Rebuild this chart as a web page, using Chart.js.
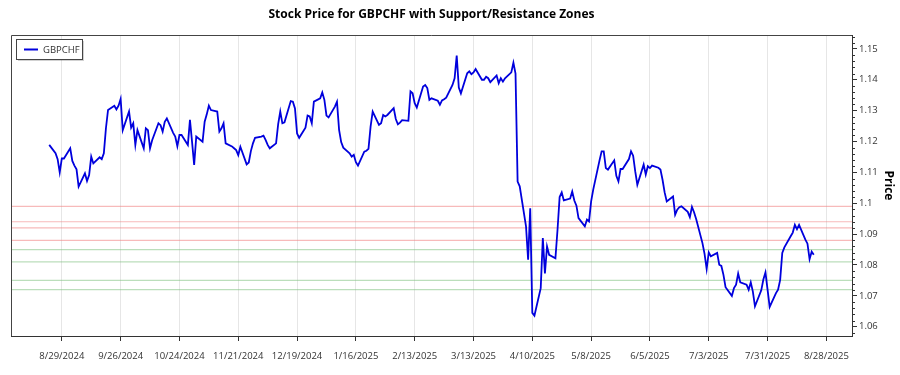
<!DOCTYPE html>
<html>
<head>
<meta charset="utf-8">
<script src="https://cdn.jsdelivr.net/npm/chart.js@4.4.1/dist/chart.umd.min.js"></script>
<style>
  html, body { margin: 0; padding: 0; background: #fff; }
  #wrap { width: 900px; height: 375px; }
</style>
</head>
<body>
<div id="wrap"><canvas id="chart" width="900" height="375"></canvas></div>
<script>
// 数据：GBPCHF 日收盘价（工作日，从 firstTradingDay 起）
const firstTradingDay = '2024-08-23';
const closePrices = [
  // 2024-08
  1.1189, 1.1162, 1.1143, 1.1100, 1.1145, 1.1145,
  // 2024-09
  1.1178, 1.1137, 1.1122, 1.1110, 1.1054, 1.1097, 1.1072, 1.1091, 1.1151, 1.1129,
  1.1149, 1.1143, 1.1162, 1.1243, 1.1302, 1.1316, 1.1304, 1.1316, 1.1338, 1.1237, 1.1297,
  // 2024-10
  1.1245, 1.1259, 1.1189, 1.1237, 1.1178, 1.1243, 1.1237, 1.1178, 1.1204, 1.1259,
  1.1253, 1.1232, 1.1264, 1.1275, 1.1228, 1.1216, 1.1185, 1.1221, 1.1221, 1.1189,
  1.1270, 1.1199, 1.1124,
  // 2024-11
  1.1216, 1.1199, 1.1264, 1.1288, 1.1316, 1.1302, 1.1297, 1.1232, 1.1243, 1.1259,
  1.1194, 1.1184, 1.1178, 1.1172, 1.1156, 1.1183, 1.1126, 1.1132, 1.1169, 1.1194, 1.1212,
  // 2024-12
  1.1216, 1.1219, 1.1205, 1.1189, 1.1178, 1.1194, 1.1256, 1.1297, 1.1259, 1.1262,
  1.1331, 1.1329, 1.1307, 1.1226, 1.1212, 1.1245, 1.1284, 1.1281, 1.1259, 1.1329,
  1.1340, 1.1359,
  // 2025-01
  1.1335, 1.1284, 1.1278, 1.1313, 1.1329, 1.1238, 1.1198, 1.1180, 1.1162, 1.1151,
  1.1157, 1.1133, 1.1122, 1.1167, 1.1170, 1.1176, 1.1248, 1.1297, 1.1254, 1.1259,
  1.1286, 1.1281, 1.1286,
  // 2025-02
  1.1308, 1.1273, 1.1256, 1.1261, 1.1269, 1.1267, 1.1362, 1.1356, 1.1324, 1.1310,
  1.1378, 1.1383, 1.1373, 1.1335, 1.1340, 1.1332, 1.1319, 1.1333, 1.1337, 1.1342,
  // 2025-03
  1.1383, 1.1405, 1.1478, 1.1375, 1.1356, 1.1421, 1.1427, 1.1418, 1.1424, 1.1435,
  1.1400, 1.1400, 1.1410, 1.1405, 1.1392, 1.1414, 1.1389, 1.1405, 1.1394, 1.1405, 1.1424,
  // 2025-04
  1.1455, 1.1420, 1.1070, 1.1055, 1.0925, 1.0817, 1.0984, 1.0645, 1.0636, 1.0725,
  1.0887, 1.0773, 1.0860, 1.0833, 1.0822, 1.0914, 1.1020, 1.1035, 1.1009, 1.1015,
  1.1038, 1.1009,
  // 2025-05
  1.0992, 1.0952, 1.0925, 1.0947, 1.0941, 1.1006, 1.1044, 1.1139, 1.1168, 1.1168,
  1.1114, 1.1109, 1.1139, 1.1089, 1.1071, 1.1111, 1.1111, 1.1143, 1.1168, 1.1154,
  1.1103, 1.1060,
  // 2025-06
  1.1125, 1.1093, 1.1120, 1.1114, 1.1122, 1.1115, 1.1109, 1.1076, 1.1035, 1.1006,
  1.1022, 1.0963, 1.0979, 1.0987, 1.0990, 1.0972, 1.0955, 1.0988, 1.0971, 1.0949, 1.0871,
  // 2025-07
  1.0836, 1.0787, 1.0841, 1.0828, 1.0839, 1.0801, 1.0797, 1.0768, 1.0728, 1.0700,
  1.0725, 1.0736, 1.0772, 1.0744, 1.0736, 1.0720, 1.0744, 1.0714, 1.0666, 1.0718,
  1.0753, 1.0776, 1.0720,
  // 2025-08
  1.0664, 1.0709, 1.0720, 1.0752, 1.0839, 1.0857, 1.0893, 1.0905, 1.0930, 1.0916,
  1.0930, 1.0882, 1.0869, 1.0819, 1.0843, 1.0833
];
const resistanceLevels = [1.099, 1.094, 1.092, 1.088];
const supportLevels = [1.085, 1.081, 1.075, 1.072];
const tickDates = ['2024-08-29', '2024-09-26', '2024-10-24', '2024-11-21', '2024-12-19',
  '2025-01-16', '2025-02-13', '2025-03-13', '2025-04-10', '2025-05-08', '2025-06-05',
  '2025-07-03', '2025-07-31', '2025-08-28'];
const priceTicks = [1.06, 1.07, 1.08, 1.09, 1.10, 1.11, 1.12, 1.13, 1.14, 1.15];

// 日期工具（以天为单位）
function dayNum(s) {
  const [y, m, d] = s.split('-').map(Number);
  return Date.UTC(y, m - 1, d) / 86400000;
}
function fmtDay(n) {
  const dt = new Date(n * 86400000);
  return (dt.getUTCMonth() + 1) + '/' + dt.getUTCDate() + '/' + dt.getUTCFullYear();
}

// 生成工作日序列
const points = [];
let cur = dayNum(firstTradingDay);
for (let i = 0; i < closePrices.length; cur++) {
  const wd = new Date(cur * 86400000).getUTCDay();
  if (wd === 0 || wd === 6) continue;
  points.push({ x: cur, y: closePrices[i] });
  i++;
}
const t0 = points[0].x, t1 = points[points.length - 1].x;
const xMin = t0 - (t1 - t0) * 0.05;
const xMax = t1 + (t1 - t0) * 0.05;

const levelSets = [
  ...resistanceLevels.map(v => ({ v, color: 'rgba(240,130,130,0.55)' })),
  ...supportLevels.map(v => ({ v, color: 'rgba(120,190,120,0.5)' }))
].map(l => ({
  label: 'level',
  data: [{ x: xMin, y: l.v }, { x: xMax, y: l.v }],
  borderColor: l.color,
  borderWidth: 1.2,
  pointRadius: 0,
  order: 1
}));

const FONT = '"Open Sans", "Noto Sans", sans-serif';

// 标题、边框、小刻度、图例
const decorations = {
  id: 'decorations',
  afterDraw(chart) {
    const { ctx, chartArea: a, scales } = chart;
    ctx.save();
    // 边框（上、左）
    ctx.strokeStyle = '#444';
    ctx.lineWidth = 1;
    ctx.beginPath();
    ctx.moveTo(a.left + 0.5, a.bottom);
    ctx.lineTo(a.left + 0.5, a.top + 0.5);
    ctx.lineTo(a.right, a.top + 0.5);
    ctx.stroke();

    // 小刻度
    ctx.strokeStyle = '#333';
    ctx.beginPath();
    for (let k = 1058; k <= 1154; k += 2) {
      if (k % 10 === 0) continue;
      const y = Math.round(scales.y.getPixelForValue(k / 1000)) + 0.5;
      ctx.moveTo(a.right, y);
      ctx.lineTo(a.right + 3, y);
    }
    ctx.stroke();

    // 标题
    ctx.fillStyle = '#000';
    ctx.font = 'bold 12px ' + FONT;
    ctx.textAlign = 'center';
    ctx.textBaseline = 'middle';
    ctx.fillText('Stock Price for GBPCHF with Support/Resistance Zones', (a.left + a.right) / 2, 15);

    // Y 轴标题
    ctx.save();
    ctx.translate(888, (a.top + a.bottom) / 2);
    ctx.rotate(Math.PI / 2);
    ctx.font = 'bold 12px ' + FONT;
    ctx.fillText('Price', 0, 0);
    ctx.restore();

    // 图例
    ctx.fillStyle = 'rgba(0,0,0,0.18)';
    ctx.fillRect(18, 41, 66, 20);
    ctx.fillStyle = '#fff';
    ctx.fillRect(16, 39, 66, 20);
    ctx.strokeStyle = '#444';
    ctx.strokeRect(16.5, 39.5, 66, 20);
    ctx.strokeStyle = '#0000dd';
    ctx.lineWidth = 2;
    ctx.beginPath();
    ctx.moveTo(24, 49.5);
    ctx.lineTo(38, 49.5);
    ctx.stroke();
    ctx.fillStyle = '#333';
    ctx.font = '9.5px ' + FONT;
    ctx.textAlign = 'left';
    ctx.fillText('GBPCHF', 43, 50);
    ctx.restore();
  }
};

new Chart(document.getElementById('chart').getContext('2d'), {
  type: 'line',
  data: {
    datasets: [{
      label: 'GBPCHF',
      data: points,
      borderColor: '#0000dd',
      borderWidth: 1.8,
      pointRadius: 0,
      tension: 0,
      order: 0
    }, ...levelSets]
  },
  options: {
    responsive: false,
    animation: false,
    layout: { padding: { left: 11, top: 35, right: 0, bottom: 0 } },
    plugins: { legend: { display: false }, title: { display: false }, tooltip: { enabled: false } },
    scales: {
      x: {
        type: 'linear',
        min: xMin,
        max: xMax,
        afterBuildTicks: s => { s.ticks = tickDates.map(d => ({ value: dayNum(d) })); },
        afterFit: s => { s.height = 39; },
        ticks: {
          callback: v => fmtDay(v),
          autoSkip: false,
          maxRotation: 0,
          padding: 10,
          color: '#333',
          font: { family: FONT, size: 9.5 }
        },
        grid: { color: '#e6e6e6', tickColor: '#333', tickLength: 5 },
        border: { color: '#333' }
      },
      y: {
        position: 'right',
        min: 1.057,
        max: 1.1545,
        afterBuildTicks: s => { s.ticks = priceTicks.map(v => ({ value: v })); },
        afterFit: s => { s.width = 48; },
        ticks: {
          callback: v => String(parseFloat(v.toFixed(2))),
          padding: 2,
          color: '#333',
          font: { family: FONT, size: 9.5 }
        },
        grid: { drawOnChartArea: false, tickColor: '#333', tickLength: 5 },
        border: { color: '#333' }
      }
    }
  },
  plugins: [decorations]
});
</script>
</body>
</html>
